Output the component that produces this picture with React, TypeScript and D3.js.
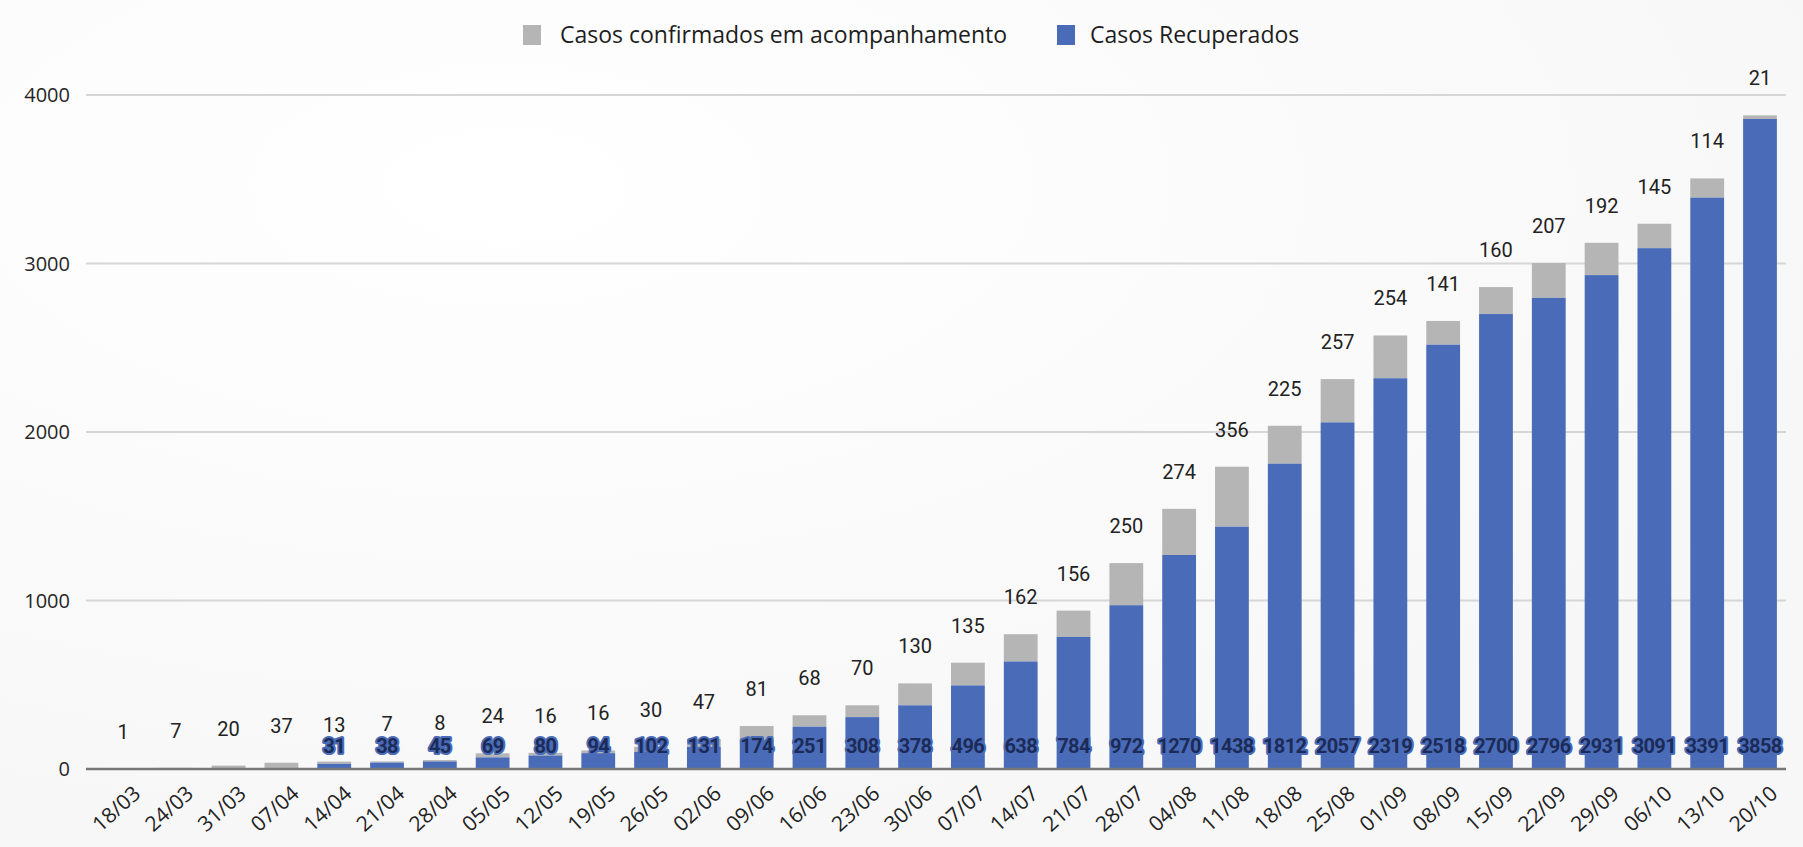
import React from "react";
import * as d3 from "d3";

const dates = ["18/03","24/03","31/03","07/04","14/04","21/04","28/04","05/05","12/05","19/05","26/05","02/06","09/06","16/06","23/06","30/06","07/07","14/07","21/07","28/07","04/08","11/08","18/08","25/08","01/09","08/09","15/09","22/09","29/09","06/10","13/10","20/10"];
const recovered = [0,0,0,0,31,38,45,69,80,94,102,131,174,251,308,378,496,638,784,972,1270,1438,1812,2057,2319,2518,2700,2796,2931,3091,3391,3858];
const active = [1,7,20,37,13,7,8,24,16,16,30,47,81,68,70,130,135,162,156,250,274,356,225,257,254,141,160,207,192,145,114,21];
const yTicks = [0, 1000, 2000, 3000, 4000];
const seriesNames = ["Casos confirmados em acompanhamento", "Casos Recuperados"];

const W = 1803, H = 847;
const BLUE = "#4a6cb8";
const GREY = "#b5b5b5";

export default function App() {
  const x = d3.scaleBand<string>().domain(dates).range([96.6, 1786.4]).paddingInner(0.36).paddingOuter(0.18);
  const y = d3.scaleLinear().domain([0, 4000]).range([769, 95]);
  const bw = x.bandwidth();

  return (
    <svg width={W} height={H} style={{ position: "absolute", left: 0, top: 0, display: "block" }}>
      <defs>
        <radialGradient id="bg" cx="0.28" cy="0.22" r="0.8">
          <stop offset="0" stopColor="#ffffff" />
          <stop offset="1" stopColor="#f7f7f7" />
        </radialGradient>
      </defs>
      <rect x={0} y={0} width={W} height={H} fill="url(#bg)" />

      {/* legend */}
      <g fontFamily="'Open Sans', sans-serif" fontSize={23} fill="#1e1e1e">
        <rect x={523} y={25} width={18} height={20} fill={GREY} />
        <text x={560} y={35} dy="0.35em">{seriesNames[0]}</text>
        <rect x={1057} y={25} width={18} height={20} fill={BLUE} />
        <text x={1090} y={35} dy="0.35em">{seriesNames[1]}</text>
      </g>

      {/* grid + y axis */}
      {yTicks.map((t) => (
        <g key={t}>
          {t !== 0 && (
            <line x1={86} x2={1786} y1={y(t)} y2={y(t)} stroke="#d6d6d6" strokeWidth={2} />
          )}
          <text x={70} y={y(t)} dy="0.35em" textAnchor="end" fontFamily="'Open Sans', sans-serif" fontSize={20} fill="#262626">
            {t}
          </text>
        </g>
      ))}

      {/* bars */}
      {dates.map((d, i) => {
        const x0 = x(d)!;
        return (
          <g key={d}>
            <rect x={x0} width={bw} y={y(recovered[i] + active[i])} height={y(recovered[i]) - y(recovered[i] + active[i])} fill={GREY} />
            {recovered[i] > 0 && (
              <rect x={x0} width={bw} y={y(recovered[i])} height={y(0) - y(recovered[i])} fill={BLUE} />
            )}
          </g>
        );
      })}

      <line x1={86} x2={1786} y1={y(0)} y2={y(0)} stroke="#777" strokeWidth={2.5} />

      {/* labels */}
      {dates.map((d, i) => {
        const cx = x(d)! + bw / 2;
        return (
          <g key={"l" + d}>
            <text x={cx} y={y(recovered[i] + active[i]) - 30} textAnchor="middle" fontFamily="Roboto, sans-serif" fontSize={20} fill="#222">
              {active[i]}
            </text>
            {recovered[i] > 0 && (
              <text x={cx} y={753} textAnchor="middle" fontFamily="Roboto, sans-serif" fontWeight="bold" fontSize={20} letterSpacing={-0.6} fill="#1c2b58" stroke={BLUE} strokeWidth={4} strokeLinejoin="round" style={{ paintOrder: "stroke" }}>
                {recovered[i]}
              </text>
            )}
            <text transform={`translate(${cx + 14},${790}) rotate(-42)`} dy="0.35em" textAnchor="end" fontFamily="'Open Sans', sans-serif" fontSize={21} fill="#222">
              {d}
            </text>
          </g>
        );
      })}
    </svg>
  );
}
